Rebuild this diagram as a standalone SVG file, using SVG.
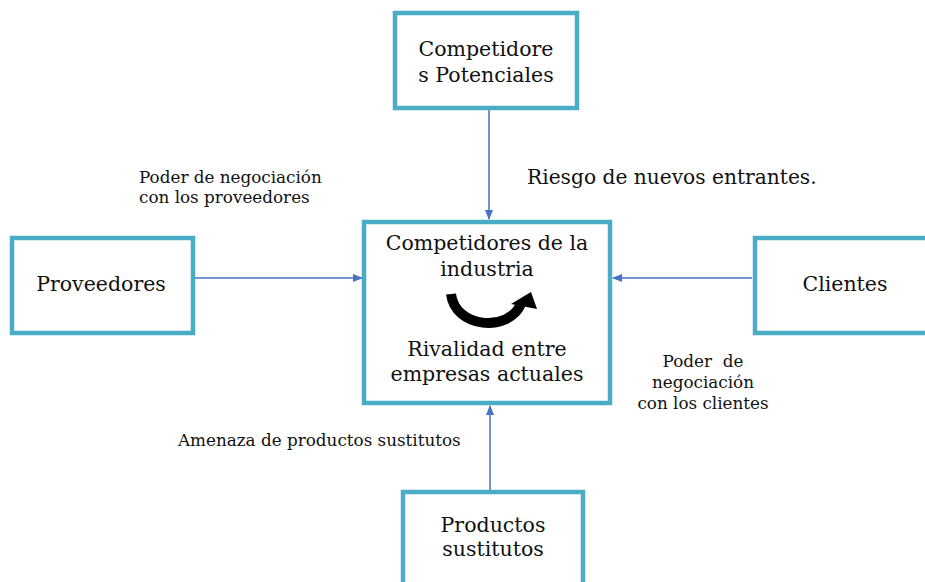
<svg xmlns="http://www.w3.org/2000/svg" width="925" height="582" viewBox="0 0 925 582">
<style>
.box{fill:#fff;stroke:#4bacc6;stroke-width:4.5}
.t{font-family:"DejaVu Serif","Liberation Serif",serif;fill:#111;text-anchor:middle}
.s{text-anchor:start}
.big{font-size:20.5px}
.sm{font-size:16.8px}
.con{stroke:#4472c4;stroke-width:1.5;fill:none}
</style>
<defs>
<marker id="ah" markerWidth="10" markerHeight="8" refX="9" refY="4" orient="auto" markerUnits="userSpaceOnUse">
<path d="M0,0 L10,4 L0,8 Z" fill="#4472c4"/>
</marker>
</defs>
<rect width="925" height="582" fill="#fff"/>
<g id="connectors">
<line class="con" x1="489" y1="110" x2="489" y2="219" marker-end="url(#ah)"/>
<line class="con" x1="195" y1="278" x2="362" y2="278" marker-end="url(#ah)"/>
<line class="con" x1="752" y1="278" x2="613" y2="278" marker-end="url(#ah)"/>
<line class="con" x1="490" y1="491" x2="490" y2="406" marker-end="url(#ah)"/>
</g>
<g id="potenciales">
<rect class="box" x="395" y="13" width="182" height="95"/>
<text class="t big" x="486" y="56">Competidore</text>
<text class="t big" x="486" y="82">s Potenciales</text>
</g>
<g id="industria">
<rect class="box" x="364" y="222" width="246" height="181"/>
<text class="t big" x="487" y="250">Competidores de la</text>
<text class="t big" x="487" y="276">industria</text>
<path d="M451,294 C455,328 508,333 521,304" stroke="#000" stroke-width="10" fill="none"/>
<path d="M511,304 L531,292 L537,309 Z" fill="#000"/>
<text class="t big" x="487" y="356">Rivalidad entre</text>
<text class="t big" x="487" y="381">empresas actuales</text>
</g>
<g id="proveedores">
<rect class="box" x="12" y="238" width="181" height="95"/>
<text class="t big" x="101" y="291">Proveedores</text>
</g>
<g id="clientes">
<rect class="box" x="755" y="238" width="180" height="95"/>
<text class="t big" x="845" y="291">Clientes</text>
</g>
<g id="sustitutos">
<rect class="box" x="403" y="492" width="180" height="100"/>
<text class="t big" x="493" y="532">Productos</text>
<text class="t big" x="493" y="556">sustitutos</text>
</g>
<g id="labels">
<text class="t s" style="font-size:20.2px" x="527" y="184">Riesgo de nuevos entrantes.</text>
<text class="t sm s" x="139" y="183">Poder de negociación</text>
<text class="t sm s" x="139" y="203">con los proveedores</text>
<text class="t sm" x="703" y="367" xml:space="preserve">Poder  de</text>
<text class="t sm" x="703" y="388">negociación</text>
<text class="t sm" x="703" y="409">con los clientes</text>
<text class="t sm s" x="178" y="446">Amenaza de productos sustitutos</text>
</g>
</svg>
